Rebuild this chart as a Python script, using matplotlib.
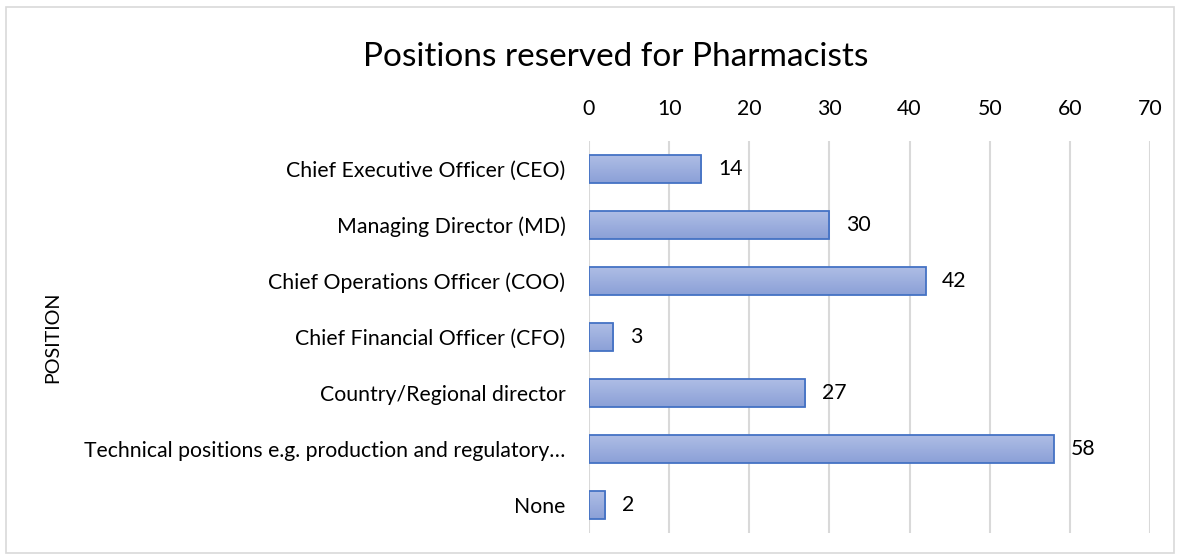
import numpy as np
import matplotlib
matplotlib.use("Agg")
import matplotlib.pyplot as plt
from matplotlib.patches import Rectangle

plt.rcParams['font.family'] = ['Lato', 'DejaVu Sans']

# data, top to bottom as in the chart
positions = [
    "Chief Executive Officer (CEO)",
    "Managing Director (MD)",
    "Chief Operations Officer (COO)",
    "Chief Financial Officer (CFO)",
    "Country/Regional director",
    "Technical positions e.g. production and regulatory\u2026",
    "None",
]
counts = [14, 30, 42, 3, 27, 58, 2]
x_ticks = [0, 10, 20, 30, 40, 50, 60, 70]

fig = plt.figure(figsize=(11.82, 5.59), dpi=100)
fig.patches.append(Rectangle((6 / 1182, 6 / 559), 1168 / 1182, 546 / 559,
                             transform=fig.transFigure, fill=False,
                             edgecolor='#d9d9d9', linewidth=1.2))

ax = fig.add_axes([589 / 1182, 1 - 533 / 559, 561 / 1182, 392 / 559])

y = np.arange(len(positions))
bars = ax.barh(y, counts, height=0.5, color='none', edgecolor='#4472c4',
               linewidth=1.3, zorder=3)

# vertical gradient fill inside each bar
grad = np.linspace(0, 1, 64).reshape(-1, 1)
cmap = matplotlib.colors.LinearSegmentedColormap.from_list(
    'bar', ['#aebde5', '#8ba0d7'])
for b in bars:
    x0, y0 = b.get_x(), b.get_y()
    w, h = b.get_width(), b.get_height()
    im = ax.imshow(grad, cmap=cmap, aspect='auto', zorder=2,
                   extent=(x0, x0 + w, y0 + h, y0), origin='upper')
    im.set_clip_path(b)

ax.bar_label(bars, labels=[str(c) for c in counts], padding=12, fontsize=15.3)

ax.set_xlim(0, 70)
ax.set_ylim(len(positions) - 0.5, -0.5)
ax.set_xticks(x_ticks)
ax.xaxis.tick_top()
ax.tick_params(axis='x', length=0, pad=16, labelsize=15.3)
ax.tick_params(axis='y', length=0, pad=17, labelsize=15.3)
ax.set_yticks(y, positions)
ax.grid(axis='x', color='#d9d9d9', linewidth=1.5, zorder=0)
ax.set_axisbelow(True)
for s in ax.spines.values():
    s.set_visible(False)

fig.text(53 / 1182, 1 - 337 / 559, "POSITION", rotation=90, fontsize=14.2,
         ha='center', va='center')
fig.text(616 / 1182, 1 - 57 / 559, "Positions reserved for Pharmacists",
         fontsize=24, ha='center', va='center')

fig.savefig("out.png", dpi=100)
